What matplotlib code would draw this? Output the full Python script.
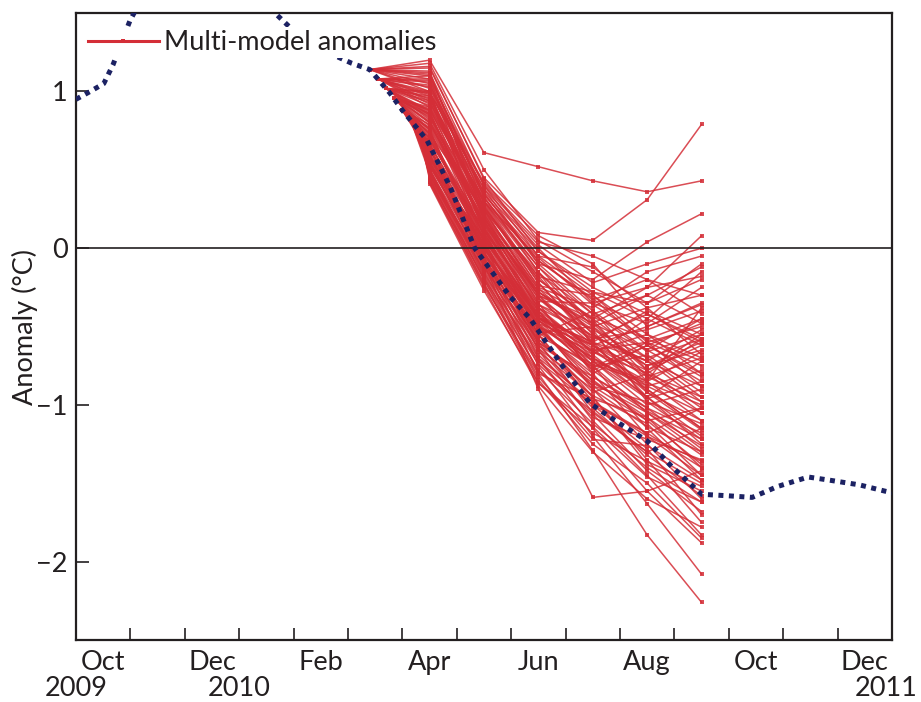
import matplotlib
matplotlib.use("Agg")
import matplotlib.pyplot as plt
import matplotlib.transforms as mtransforms

plt.rcParams['font.family'] = ['Lato', 'DejaVu Sans']

# x in months since 1 Oct 2009
obs_x = [0.0, 0.26, 0.51, 0.68, 0.99, 1.25, 1.6, 2.0, 2.5, 3.0, 3.4, 3.69, 3.93,
         4.4, 4.75, 5.07, 5.4, 5.77, 6.0, 6.45, 6.88, 7.33, 7.98, 8.35, 8.66,
         9.08, 9.45, 10.0, 10.5, 10.97, 11.5, 12.0, 12.43, 12.9, 13.46, 13.85,
         14.4, 14.87, 15.0]
obs_val = [0.95, 1.0, 1.05, 1.17, 1.45, 1.62, 1.75, 1.82, 1.85, 1.78, 1.62, 1.49, 1.41,
           1.30, 1.23, 1.18, 1.14, 0.99, 0.88, 0.69, 0.39, 0.0, -0.31, -0.45, -0.61,
           -0.82, -0.99, -1.12, -1.23, -1.40, -1.57, -1.58, -1.59, -1.52, -1.46, -1.48,
           -1.51, -1.55, -1.56]

# forecast start dates / start values, then monthly forecasts (Apr..Sep 2010)
init_x = [5.40, 5.55, 5.70, 5.85, 6.00, 6.15, 6.30, 6.45]
init_val = [1.14, 1.08, 1.02, 0.96, 0.88, 0.82, 0.75, 0.69]
fc_months = [6.5, 7.5, 8.5, 9.5, 10.5, 11.5]

member_init = ([0] * 10 + [1] * 10 + [2] * 10 + [3] * 10 + [4] * 10 + [5] * 10 + [6] * 8 + [7] * 8
               + [0] * 2 + [1] * 4 + [2] * 4 + [3] * 4 + [4] * 4 + [5] * 4 + [6] * 4 + [7] * 4)
members = [
    [1.20, 0.61, 0.52, 0.43, 0.36, 0.43],
    [1.15, 0.45, 0.10, 0.05, 0.31, 0.79],
    [1.12, 0.40, -0.05, -0.30, -0.55, -0.80],
    [1.10, 0.35, -0.10, -0.20, 0.04, 0.22],
    [1.05, 0.30, -0.20, -0.45, -0.70, -0.95],
    [1.18, 0.50, 0.05, -0.15, -0.35, -0.20],
    [1.08, 0.25, -0.30, -0.60, -0.40, -0.55],
    [1.00, 0.38, 0.00, -0.35, -0.25, 0.08],
    [1.13, 0.20, -0.40, -0.75, -1.05, -1.30],
    [1.02, 0.42, 0.08, -0.10, -0.50, -0.35],
    [1.10, 0.33, -0.15, -0.50, -0.85, -1.10],
    [0.98, 0.28, -0.25, -0.38, -0.15, -0.05],
    [1.06, 0.18, -0.45, -0.65, -0.60, -0.75],
    [0.95, 0.36, -0.02, -0.28, -0.45, -0.62],
    [1.03, 0.22, -0.35, -0.80, -1.20, -1.45],
    [0.92, 0.30, -0.12, -0.42, -0.30, -0.48],
    [1.00, 0.12, -0.55, -0.95, -1.35, -1.75],
    [0.97, 0.26, -0.18, -0.55, -0.75, -0.60],
    [1.08, 0.40, 0.02, -0.22, -0.10, 0.00],
    [0.90, 0.15, -0.38, -0.70, -0.95, -1.20],
    [0.96, 0.24, -0.28, -0.48, -0.65, -0.85],
    [0.88, 0.32, -0.08, -0.33, -0.20, -0.30],
    [1.00, 0.10, -0.50, -0.88, -1.10, -1.38],
    [0.85, 0.20, -0.32, -0.62, -0.88, -1.05],
    [0.93, 0.34, -0.05, -0.12, -0.38, -0.68],
    [0.82, 0.05, -0.60, -1.05, -1.30, -1.50],
    [0.94, 0.27, -0.22, -0.58, -0.52, -0.40],
    [0.87, 0.14, -0.42, -0.72, -1.00, -0.90],
    [0.99, 0.38, -0.10, -0.40, -0.78, -1.02],
    [0.80, 0.18, -0.36, -0.52, -0.70, -0.58],
    [0.84, 0.08, -0.48, -0.90, -1.25, -1.60],
    [0.78, 0.22, -0.26, -0.44, -0.58, -0.72],
    [0.90, 0.30, -0.15, -0.62, -0.90, -1.15],
    [0.75, 0.02, -0.65, -1.10, -1.45, -1.83],
    [0.86, 0.16, -0.34, -0.35, -0.48, -0.25],
    [0.72, 0.12, -0.40, -0.78, -0.62, -0.80],
    [0.81, 0.25, -0.20, -0.46, -0.82, -0.98],
    [0.76, -0.02, -0.70, -1.15, -1.55, -1.88],
    [0.89, 0.20, -0.30, -0.68, -0.45, -0.15],
    [0.70, 0.10, -0.45, -0.60, -0.95, -1.25],
    [0.74, 0.04, -0.55, -0.98, -1.18, -1.40],
    [0.68, 0.15, -0.32, -0.56, -0.72, -0.52],
    [0.79, 0.23, -0.24, -0.30, -0.60, -0.88],
    [0.65, -0.05, -0.75, -1.20, -1.63, -2.08],
    [0.71, 0.06, -0.50, -0.85, -1.08, -1.32],
    [0.62, 0.13, -0.38, -0.66, -0.55, -0.70],
    [0.77, 0.19, -0.28, -0.52, -0.98, -1.22],
    [0.60, -0.08, -0.80, -1.29, -1.83, -2.26],
    [0.73, 0.01, -0.58, -0.92, -0.80, -0.95],
    [0.66, 0.09, -0.44, -0.75, -1.15, -1.48],
    [0.64, -0.10, -0.90, -1.59, -1.55, -1.42],
    [0.58, 0.03, -0.52, -0.82, -1.02, -1.18],
    [0.69, 0.11, -0.36, -0.58, -0.42, -0.60],
    [0.55, -0.12, -0.68, -1.00, -1.28, -1.70],
    [0.61, 0.00, -0.62, -0.95, -1.38, -1.55],
    [0.52, 0.07, -0.46, -0.70, -0.88, -0.78],
    [0.67, -0.03, -0.56, -0.40, -0.65, -0.45],
    [0.50, -0.15, -0.72, -1.08, -1.22, -1.35],
    [0.63, 0.05, -0.40, -0.64, -0.92, -1.10],
    [0.48, -0.18, -0.78, -1.12, -1.40, -1.62],
    [0.56, -0.06, -0.60, -0.86, -1.05, -1.26],
    [0.47, -0.20, -0.84, -1.25, -1.50, -1.85],
    [0.59, 0.02, -0.48, -0.76, -0.68, -0.92],
    [0.45, -0.14, -0.66, -0.94, -1.12, -1.45],
    [0.53, -0.09, -0.54, -0.50, -0.75, -0.65],
    [0.44, -0.22, -0.86, -1.18, -1.36, -1.52],
    [0.57, -0.01, -0.42, -0.72, -0.85, -0.38],
    [0.46, -0.11, -0.64, -1.02, -1.32, -1.58],
    [0.51, -0.16, -0.70, -0.98, -1.20, -1.36],
    [0.42, -0.25, -0.88, -1.30, -1.60, -1.78],
    [0.54, -0.07, -0.52, -0.80, -0.62, -0.82],
    [0.43, -0.19, -0.74, -1.06, -1.42, -1.68],
    [0.49, -0.13, -0.58, -0.88, -0.98, -1.12],
    [0.44, -0.23, -0.82, -1.22, -1.26, -1.48],
    [0.52, -0.04, -0.46, -0.68, -0.95, -0.72],
    [0.41, -0.27, -0.86, -1.14, -1.46, -1.62],
    # second batch
    [1.16, 0.44, -0.02, -0.25, -0.42, -0.58],
    [1.11, 0.32, -0.12, -0.48, -0.30, -0.12],
    [1.04, 0.35, -0.08, -0.32, -0.62, -0.48],
    [0.94, 0.19, -0.30, -0.45, -0.25, -0.18],
    [1.07, 0.29, -0.22, -0.60, -0.80, -1.05],
    [0.99, 0.41, 0.04, -0.05, -0.20, -0.42],
    [0.91, 0.26, -0.18, -0.28, -0.35, -0.10],
    [0.86, 0.12, -0.44, -0.66, -0.85, -0.66],
    [0.97, 0.21, -0.26, -0.54, -0.92, -1.16],
    [0.83, 0.30, -0.06, -0.36, -0.58, -0.45],
    [0.80, 0.17, -0.28, -0.50, -0.38, -0.30],
    [0.88, 0.07, -0.46, -0.78, -1.02, -1.28],
    [0.73, 0.24, -0.16, -0.42, -0.66, -0.55],
    [0.85, 0.13, -0.38, -0.56, -0.72, -0.98],
    [0.70, 0.08, -0.42, -0.62, -0.50, -0.36],
    [0.63, -0.02, -0.60, -0.84, -1.10, -1.02],
    [0.76, 0.16, -0.30, -0.48, -0.78, -0.62],
    [0.67, 0.04, -0.50, -0.70, -0.90, -1.15],
    [0.60, -0.04, -0.54, -0.76, -0.60, -0.50],
    [0.54, 0.06, -0.44, -0.62, -0.82, -0.70],
    [0.65, -0.08, -0.64, -0.90, -1.14, -1.30],
    [0.57, 0.01, -0.50, -0.72, -0.96, -0.85],
    [0.55, -0.03, -0.50, -0.66, -0.80, -0.58],
    [0.49, -0.17, -0.72, -1.00, -1.18, -1.02],
    [0.58, 0.00, -0.44, -0.60, -0.72, -0.88],
    [0.47, -0.10, -0.62, -0.82, -1.04, -1.22],
    [0.50, -0.09, -0.56, -0.74, -0.86, -1.00],
    [0.45, -0.20, -0.78, -1.04, -1.30, -1.15],
    [0.53, -0.05, -0.48, -0.62, -0.78, -0.55],
    [0.42, -0.24, -0.80, -0.96, -1.08, -1.40],
]

month_labels = ['Oct', 'Dec', 'Feb', 'Apr', 'Jun', 'Aug', 'Oct', 'Dec']
month_label_pos = [0.5, 2.5, 4.5, 6.5, 8.5, 10.5, 12.5, 14.5]
year_labels = ['2009', '2010', '2011']
year_pos = [0.0, 3.0, 14.9]

red = '#d42e37'
navy = '#1c2263'
ink = '#231f20'
fs = 19.5

fig = plt.figure(figsize=(9.21, 7.02), dpi=100)
ax = fig.add_axes([0.0825, 0.0883, 0.886, 0.893])

for k, row in enumerate(members):
    g = member_init[k]
    ax.plot([init_x[g]] + fc_months, [init_val[g]] + row, color=red, lw=1.1,
            alpha=0.85, marker='s', ms=2.4, mew=0, zorder=2,
            label='Multi-model anomalies' if k == 0 else None)

ax.plot(obs_x, obs_val, color=navy, lw=3.6, linestyle=(0, (1, 1.1)),
        dash_capstyle='butt', zorder=3)

ax.axhline(0, color=ink, lw=1.2, zorder=2.5)

ax.set_xlim(0, 15)
ax.set_ylim(-2.5, 1.5)

ax.set_xticks(month_label_pos)
ax.set_xticklabels(month_labels)
ax.set_xticks(range(1, 15), minor=True)
ax.tick_params(axis='x', which='major', length=0, pad=7, labelsize=fs, colors=ink)
ax.tick_params(axis='x', which='minor', direction='in', length=9, width=1.2, color=ink)
ax.set_yticks([-2, -1, 0, 1])
ax.set_yticklabels(['\u22122', '\u22121', '0', '1'])
ax.tick_params(axis='y', direction='in', length=9, width=1.2, pad=6, labelsize=fs, colors=ink)

for s in ax.spines.values():
    s.set_linewidth(1.6)
    s.set_color(ink)

trans = mtransforms.blended_transform_factory(ax.transData, ax.transAxes)
for lab, xp in zip(year_labels, year_pos):
    ax.text(xp, -0.058, lab, transform=trans, ha='center', va='top',
            fontsize=fs, color=ink, clip_on=False)

ax.set_ylabel('Anomaly (\u00b0C)', fontsize=fs, color=ink, labelpad=-1)

leg = ax.legend(loc='upper left', bbox_to_anchor=(0.011, 0.978), borderaxespad=0,
                fontsize=fs, frameon=True, facecolor='white', edgecolor='none',
                framealpha=1, handlelength=2.6, handletextpad=0.2, borderpad=0.12)
for t in leg.get_texts():
    t.set_color(ink)
for h in leg.legend_handles:
    h.set_alpha(1)
    h.set_linewidth(2.2)

fig.savefig('out.png', dpi=100)
